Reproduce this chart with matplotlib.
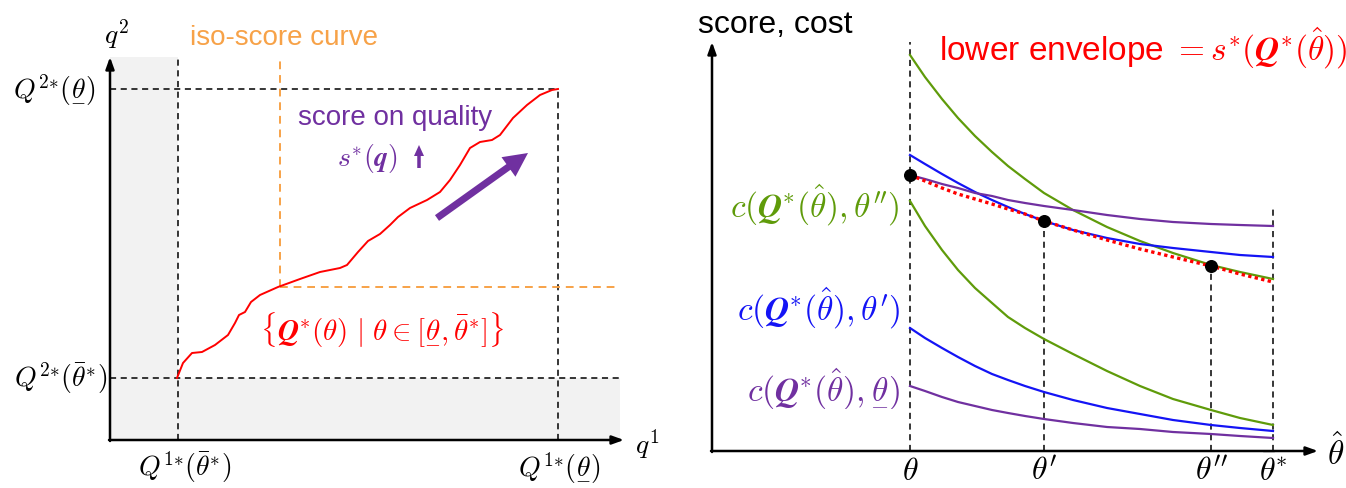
import numpy as np
import matplotlib
matplotlib.use('Agg')
import matplotlib.pyplot as plt
from matplotlib.patches import Rectangle
from matplotlib import mathtext
from io import BytesIO

plt.rcParams['font.family'] = ['Liberation Sans', 'DejaVu Sans']
plt.rcParams['mathtext.fontset'] = 'cm'

# bold italic Q if this mathtext has it, plain bold otherwise
try:
    mathtext.math_to_image(r'$\mathbfit{Q}$', BytesIO(), format='png')
    BF = r'\mathbfit'
except Exception:
    BF = r'\mathbf'

# ---- left panel data (quality space q1, q2) ----
q1_path = [0.67, 0.73, 0.82, 0.92, 1.05, 1.18, 1.25, 1.29, 1.35, 1.41, 1.50, 1.68,
           1.90, 2.10, 2.30, 2.37, 2.48, 2.58, 2.70, 2.80, 2.88, 3.00, 3.17, 3.30,
           3.40, 3.50, 3.60, 3.70, 3.82, 3.90, 4.03, 4.17, 4.30, 4.42, 4.48]
q2_path = [0.62, 0.77, 0.87, 0.88, 0.95, 1.05, 1.17, 1.25, 1.28, 1.38, 1.45, 1.53,
           1.61, 1.68, 1.72, 1.75, 1.88, 1.99, 2.06, 2.15, 2.23, 2.32, 2.40, 2.48,
           2.60, 2.75, 2.92, 2.98, 3.00, 3.05, 3.22, 3.35, 3.45, 3.50, 3.51]
Q1_lo, Q1_hi = 0.68, 4.48   # Q^{1*}(theta_bar*), Q^{1*}(theta_low)
Q2_lo, Q2_hi = 0.62, 3.51
iso_q1, iso_q2 = 1.70, 1.53
q1_max, q2_max = 5.10, 3.83

# ---- right panel data (theta_hat vs score/cost) ----
theta_hat = [1.98, 2.13, 2.30, 2.46, 2.63, 2.80, 2.96, 3.13, 3.32, 3.61, 3.95, 4.28,
             4.61, 4.99, 5.28, 5.61]
green_top = [3.96, 3.74, 3.52, 3.33, 3.15, 2.99, 2.85, 2.72, 2.58, 2.41, 2.24, 2.10,
             1.98, 1.86, 1.79, 1.72]
blue_top = [2.96, 2.87, 2.77, 2.68, 2.59, 2.51, 2.44, 2.37, 2.30, 2.21, 2.13, 2.07,
            2.03, 1.99, 1.96, 1.94]
purple_top = [2.76, 2.72, 2.67, 2.63, 2.58, 2.55, 2.51, 2.48, 2.45, 2.41, 2.36, 2.32,
              2.29, 2.27, 2.26, 2.25]
envelope = [2.76, 2.70, 2.63, 2.57, 2.52, 2.47, 2.42, 2.37, 2.30, 2.21, 2.11, 2.02,
            1.94, 1.85, 1.77, 1.69]
green_bot = [2.50, 2.25, 2.01, 1.81, 1.63, 1.48, 1.34, 1.23, 1.12, 0.97, 0.80, 0.65,
             0.52, 0.41, 0.33, 0.26]
blue_bot = [1.23, 1.13, 1.03, 0.94, 0.85, 0.77, 0.71, 0.65, 0.59, 0.51, 0.43, 0.37,
            0.31, 0.26, 0.23, 0.20]
purple_bot = [0.65, 0.60, 0.54, 0.49, 0.45, 0.41, 0.38, 0.35, 0.32, 0.28, 0.24, 0.22,
              0.19, 0.17, 0.15, 0.13]
tick_pos = [1.98, 3.32, 4.99, 5.61]
tick_lab = [r'$\theta$', r"$\theta'$", r"$\theta''$", r'$\bar{\theta}^{*}$']
tick_top = [4.09, 2.30, 1.85, 2.45]
dot_x = [1.98, 3.32, 4.99]
dot_y = [2.76, 2.30, 1.85]

GREEN = '#5f9b0a'
BLUE = '#1414f5'
PURPLE = '#7030a0'
ORANGE = '#f7a248'
RED = '#ff0000'

fig = plt.figure(figsize=(13.46, 4.88), dpi=100)
axL = fig.add_axes([0, 0, 0.5, 1])
axR = fig.add_axes([0.5, 0, 0.5, 1])
axL.set_xlim(-1.10, 5.63)
axL.set_ylim(-0.48, 4.40)
axR.set_xlim(-0.39, 6.34)
axR.set_ylim(-0.37, 4.51)
for ax in (axL, axR):
    ax.axis('off')

dash = (0, (4, 3))
Qs = BF + '{Q}^{*}'

# ---------------- left panel ----------------
axL.add_patch(Rectangle((0, 0), Q1_lo, q2_max, color='#f2f2f2', lw=0, zorder=0))
axL.add_patch(Rectangle((0, 0), q1_max, Q2_lo, color='#f2f2f2', lw=0, zorder=0))

axL.plot([Q1_lo, Q1_lo], [0, q2_max], color='k', lw=1.1, ls=dash)
axL.plot([0, q1_max], [Q2_lo, Q2_lo], color='k', lw=1.1, ls=dash)
axL.plot([0, Q1_hi], [Q2_hi, Q2_hi], color='k', lw=1.1, ls=dash)
axL.plot([Q1_hi, Q1_hi], [0, Q2_hi], color='k', lw=1.1, ls=dash)
axL.plot([iso_q1, iso_q1], [iso_q2, q2_max], color=ORANGE, lw=1.4, ls=dash)
axL.plot([iso_q1, q1_max], [iso_q2, iso_q2], color=ORANGE, lw=1.4, ls=dash)

axL.plot(q1_path, q2_path, color=RED, lw=1.4, zorder=3)

# axes with arrows
arr = dict(arrowstyle='-|>,head_length=0.5,head_width=0.18', lw=1.8, color='k',
           shrinkA=0, shrinkB=0, mutation_scale=14)
axL.annotate('', xy=(0, q2_max), xytext=(0, -0.01), arrowprops=arr)
axL.annotate('', xy=(5.14, 0), xytext=(-0.01, 0), arrowprops=arr)

# big purple arrow and small up arrow
axL.arrow(3.27, 2.22, 0.91, 0.65, width=0.07, head_width=0.24, head_length=0.24,
          length_includes_head=True, color=PURPLE, lw=0)
axL.arrow(3.09, 2.72, 0, 0.23, width=0.035, head_width=0.10, head_length=0.11,
          length_includes_head=True, color=PURPLE, lw=0)

axL.text(0.06, 4.06, r'$q^2$', fontsize=20, ha='center', va='center')
axL.text(5.37, -0.04, r'$q^1$', fontsize=20, ha='center', va='center')
axL.text(-0.14, Q2_hi, r'$Q^{2{*}}(\underset{-}{\theta})$', fontsize=20, ha='right', va='center')
axL.text(-0.03, Q2_lo, r'$Q^{2{*}}(\bar{\theta}^{*})$', fontsize=20, ha='right', va='center')
axL.text(0.75, -0.27, r'$Q^{1{*}}(\bar{\theta}^{*})$', fontsize=20, ha='center', va='center')
axL.text(4.49, -0.27, r'$Q^{1{*}}(\underset{-}{\theta})$', fontsize=20, ha='center', va='center')
axL.text(0.80, 4.02, 'iso-score curve', fontsize=20, color=ORANGE, ha='left', va='center')
axL.text(2.85, 3.22, 'score on quality', fontsize=20, color=PURPLE, ha='center', va='center')
axL.text(2.57, 2.82, r'$s^{*}(' + BF + r'{q})$', fontsize=20, color=PURPLE,
         ha='center', va='center')
axL.text(2.72, 1.12, r'$\{' + Qs + r'(\theta)\ |\ \theta \in [\underset{-}{\theta}, \bar{\theta}^{*}]\}$',
         fontsize=21, color=RED, ha='center', va='center')

# ---------------- right panel ----------------
for x, top in zip(tick_pos, tick_top):
    axR.plot([x, x], [0, top], color='k', lw=1.1, ls=dash, zorder=1)

axR.plot(theta_hat, green_top, color=GREEN, lw=1.6)
axR.plot(theta_hat, green_bot, color=GREEN, lw=1.6)
axR.plot(theta_hat, blue_top, color=BLUE, lw=1.6)
axR.plot(theta_hat, blue_bot, color=BLUE, lw=1.6)
axR.plot(theta_hat, purple_top, color=PURPLE, lw=1.6)
axR.plot(theta_hat, purple_bot, color=PURPLE, lw=1.6)
axR.plot(theta_hat, envelope, color=RED, lw=2.4, ls=(0, (1, 1)), zorder=4)
axR.scatter(dot_x, dot_y, s=70, color='k', zorder=5)

axR.annotate('', xy=(0, 4.09), xytext=(0, -0.01), arrowprops=arr)
axR.annotate('', xy=(6.06, 0), xytext=(-0.01, 0), arrowprops=arr)

for x, lab in zip(tick_pos, tick_lab):
    axR.text(x, -0.21, lab, fontsize=23, ha='center', va='center')
axR.text(6.24, -0.02, r'$\hat{\theta}$', fontsize=24, ha='center', va='center')

axR.text(-0.14, 4.26, 'score, cost', fontsize=23, ha='left', va='center')
axR.text(2.27, 4.03, r'lower envelope $= s^{*}(' + Qs + r'(\hat{\theta}))$', fontsize=24,
         color=RED, ha='left', va='center')
axR.text(1.88, 2.46, r'$c(' + Qs + r"(\hat{\theta}), \theta'')$", fontsize=24,
         color=GREEN, ha='right', va='center')
axR.text(1.88, 1.43, r'$c(' + Qs + r"(\hat{\theta}), \theta')$", fontsize=24,
         color=BLUE, ha='right', va='center')
axR.text(1.88, 0.64, r'$c(' + Qs + r'(\hat{\theta}), \underset{-}{\theta})$', fontsize=24,
         color=PURPLE, ha='right', va='center')

fig.savefig('out.png', dpi=100)
